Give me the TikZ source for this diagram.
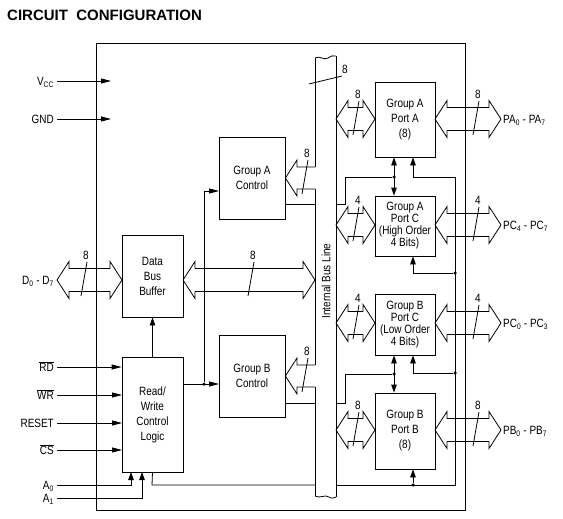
\documentclass[tikz,border=0pt]{standalone}
\usepackage{fontspec}
\setmainfont{Liberation Sans}[FakeStretch=0.83]
\newfontfamily\titlefont{Liberation Sans}
\usetikzlibrary{arrows.meta}
\tikzset{
  wire/.style={line width=0.8pt, line join=miter},
  tip/.style={wire, -{Triangle[length=10pt,width=5pt]}},
  vtip/.style={wire, -{Triangle[length=8pt,width=5.5pt]}},
  vboth/.style={wire, {Triangle[length=8pt,width=5.5pt]}-{Triangle[length=8pt,width=5.5pt]}},
  blk/.style={draw, line width=0.8pt, inner sep=0pt, align=center, font=\fontsize{12}{15}\selectfont},
  blkc/.style={blk, font=\fontsize{12}{12}\selectfont},
  lbl/.style={inner sep=0pt, font=\fontsize{12}{15}\selectfont},
  dot/.style={circle, fill, inner sep=0pt, minimum size=3.5pt},
}
% horizontal hollow double-headed bus arrow: x1, x2, y
\newcommand\bidirarrow[3]{%
  \draw[wire] (#1,#3) -- ({#1+12},{#3-18.5}) -- ({#1+12},{#3-11.5}) -- ({#2-12},{#3-11.5})
    -- ({#2-12},{#3-18.5}) -- (#2,#3) -- ({#2-12},{#3+18.5}) -- ({#2-12},{#3+11.5})
    -- ({#1+12},{#3+11.5}) -- ({#1+12},{#3+18.5}) -- cycle;}
% bus width slash: x, y, label
\newcommand\busslash[3]{%
  \draw[wire] ({#1-3},{#2+16}) -- ({#1+3},{#2-18});
  \node[lbl] at ({#1+2},{#2-25}) {#3};}
\begin{document}
\begin{tikzpicture}[x=1pt,y=-1pt]
\useasboundingbox (0,0) rectangle (563,519);

% title
\node[anchor=base west, inner sep=0pt, font=\titlefont\bfseries\fontsize{15}{18}\selectfont]
  (title) at (7,21) {CIRCUIT\ \ CONFIGURATION};

% outer chip outline
\node[draw, line width=0.8pt, minimum width=369pt, minimum height=467pt, inner sep=0pt]
  (chip) at (280.5,276.5) {};

% blocks
\node[blk, minimum width=61pt, minimum height=82pt] (dbb) at (152.5,276) {Data\\Bus\\Buffer};
\node[blk, minimum width=61pt, minimum height=115pt] (rw) at (152.5,414.5) {Read/\\Write\\Control\\Logic};
\node[blk, minimum width=66pt, minimum height=82pt] (gac) at (252,178) {Group A\\Control};
\node[blk, minimum width=66pt, minimum height=82pt] (gbc) at (252,376) {Group B\\Control};
\node[blk, minimum width=60pt, minimum height=75pt] (pa) at (405,119.5) {Group A\\Port A\\(8)};
\node[blkc, minimum width=60pt, minimum height=60pt] (pch) at (405,226) {Group A\\Port C\\(High Order\\4 Bits)};
\node[blkc, minimum width=60pt, minimum height=61pt] (pcl) at (405,324.5) {Group B\\Port C\\(Low Order\\4 Bits)};
\node[blk, minimum width=60pt, minimum height=76pt] (pb) at (405,431) {Group B\\Port B\\(8)};

\coordinate (colA) at (394,0);
\coordinate (colB) at (413,0);

% internal bus line
\draw[wire] (315,58) .. controls (320,55) and (324,61) .. (328,58) .. controls (331,56) and (334,55) .. (336,56);
\draw[wire] (336,56) -- (336,497);
\draw[wire] (315,496) .. controls (320,499) and (325,494) .. (329,497) .. controls (332,499) and (334,498) .. (336,497);
\draw[wire] (315,58) -- (315,167);
\draw[wire] (315,189) -- (315,365);
\draw[wire] (315,387) -- (315,496);
\node[lbl, rotate=90] (busname) at (326,281) {Internal Bus Line};
\draw[wire] (309,84) -- (342,76);
\node[lbl] (buswidth) at (345,69) {8};

% bus to group controls
\draw[wire] (315,167) -- (297,167) -- (297,160) -- (gac.east) -- (297,196) -- (297,189) -- (315,189);
\busslash{305}{178}{8}
\draw[wire] (315,365) -- (297,365) -- (297,358) -- (gbc.east) -- (297,394) -- (297,387) -- (315,387);
\busslash{305}{376}{8}

% data bus
\bidirarrow{57}{122}{280}
\busslash{84}{280}{8}
\bidirarrow{183}{315}{280}
\busslash{251}{280}{8}

% port arrows
\bidirarrow{336}{375}{119}   \busslash{356}{119}{8}
\bidirarrow{435}{501}{119}   \busslash{476}{119}{8}
\bidirarrow{336}{375}{225}   \busslash{356}{225}{4}
\bidirarrow{435}{501}{225}   \busslash{476}{225}{4}
\bidirarrow{336}{375}{323}   \busslash{356}{323}{4}
\bidirarrow{435}{501}{323}   \busslash{476}{323}{4}
\bidirarrow{336}{375}{430}   \busslash{356}{430}{8}
\bidirarrow{435}{501}{430}   \busslash{476}{430}{8}

% right pin labels
\node[lbl, anchor=base west] (pal) at (503,123.5) {PA\textsubscript{0} - PA\textsubscript{7}};
\node[lbl, anchor=base west] (pchl) at (503,229.5) {PC\textsubscript{4} - PC\textsubscript{7}};
\node[lbl, anchor=base west] (pcll) at (503,327.5) {PC\textsubscript{0} - PC\textsubscript{3}};
\node[lbl, anchor=base west] (pbl) at (503,434.5) {PB\textsubscript{0} - PB\textsubscript{7}};

% port-to-port links
\draw[vboth] (pa.south -| colA) -- (pch.north -| colA);
\draw[vboth] (pcl.south -| colA) -- (pb.north -| colA);
\node[dot] (jA) at (394,177) {};
\node[dot] (jB) at (394,374) {};

% group control outputs
\draw[wire] (285,204) -- (315,204);
\draw[wire] (336,204) -- (345,204) -- (345,177) -- (jA);
\draw[wire] (285,403) -- (315,403);
\draw[wire] (336,403) -- (345,403) -- (345,374) -- (jB);

% control line from read/write logic to the ports
\draw[wire] (rw.south) -- (152,485) -- (315,485);
\draw[wire] (336,485) -- (455,485) -- (455,177) -- (413,177);
\draw[vtip] (413,177) -- (pa.south -| colB);
\node[dot] (j1) at (455,273) {};
\node[dot] (j2) at (455,373) {};
\node[dot] (j3) at (413,485) {};
\draw[vtip] (j1) -| (pch.south -| colB);
\draw[vtip] (j2) -| (pcl.south -| colB);
\draw[vtip] (j3) -- (pb.south -| colB);

% read/write logic to controls and data bus buffer
\draw[vtip] (rw.north) -- (dbb.south);
\node[dot] (j4) at (204,384) {};
\draw[tip] (183,384) -- (219,384);
\draw[tip] (j4) -- (204,191) -- (219,191);

% power pins
\node[lbl, anchor=base east] (vcc) at (54,85.5) {V\textsubscript{CC}};
\node[lbl, anchor=base east] (gnd) at (54,123.5) {GND};
\draw[tip] (57,81) -- (111,81);
\draw[tip] (57,119) -- (111,119);

% data pins
\node[lbl, anchor=base east] (dl) at (54,284.5) {D\textsubscript{0} - D\textsubscript{7}};

% control pins
\node[lbl, anchor=base east] (rdl) at (54,371.5) {$\overline{\mbox{RD}}$};
\node[lbl, anchor=base east] (wrl) at (54,399.5) {$\overline{\mbox{WR}}$};
\node[lbl, anchor=base east] (rsl) at (54,427.5) {RESET};
\node[lbl, anchor=base east] (csl) at (54,454.5) {$\overline{\mbox{CS}}$};
\node[lbl, anchor=base east] (a0l) at (54,489.5) {A\textsubscript{0}};
\node[lbl, anchor=base east] (a1l) at (54,502.5) {A\textsubscript{1}};
\draw[tip] (57,367) -- (rw.west |- 0,367);
\draw[tip] (57,395) -- (122,395);
\draw[tip] (57,423) -- (122,423);
\draw[tip] (57,450) -- (122,450);
\draw[vtip] (57,485) -| (131,472);
\draw[vtip] (57,498) -| (142,472);
\end{tikzpicture}
\end{document}
